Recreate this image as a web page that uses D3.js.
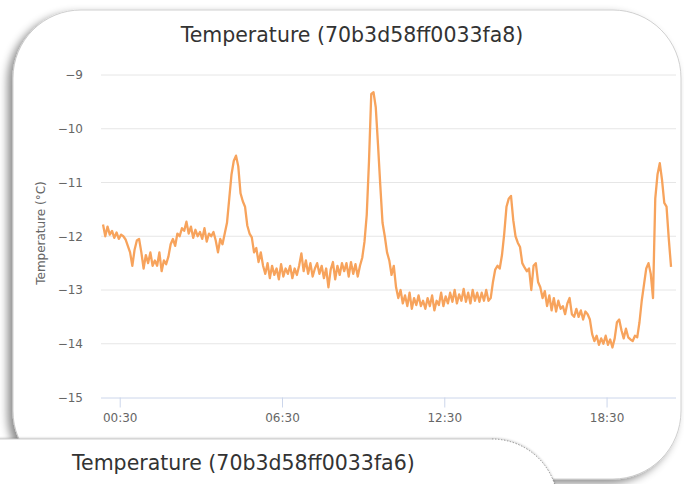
<!DOCTYPE html>
<html><head><meta charset="utf-8">
<script src="https://cdn.jsdelivr.net/npm/d3@7"></script>
<style>
html,body{margin:0;padding:0;background:#fff;overflow:hidden;}
svg{display:block;}
</style></head>
<body>
<svg id="chart" width="684" height="484"></svg>
<script>
// ---------- data ----------
const chartTitle = "Temperature (70b3d58ff0033fa8)";
const nextTitle = "Temperature (70b3d58ff0033fa6)";
const yAxisTitle = "Temperature (°C)";
const startTime = new Date(2020, 0, 1, 23, 53);
const stepMinutes = 5;
const temperatures = [
  -11.78,-12.0,-11.82,-11.97,-11.9,-12.03,-11.93,-12.05,-11.97,-12.0,-12.06,-12.18,
  -12.3,-12.55,-12.25,-12.08,-12.05,-12.3,-12.6,-12.35,-12.5,-12.3,-12.55,-12.45,
  -12.55,-12.3,-12.65,-12.45,-12.52,-12.38,-12.15,-12.05,-12.18,-11.95,-12.0,-11.85,
  -11.9,-11.73,-11.95,-11.82,-12.03,-11.88,-12.0,-11.92,-12.05,-11.85,-12.1,-11.95,
  -12.0,-11.92,-12.08,-12.3,-12.05,-12.15,-11.95,-11.75,-11.3,-10.85,-10.6,-10.5,
  -10.7,-11.2,-11.35,-11.45,-11.8,-11.95,-12.02,-12.3,-12.22,-12.48,-12.3,-12.55,
  -12.7,-12.5,-12.78,-12.55,-12.72,-12.6,-12.8,-12.52,-12.75,-12.6,-12.7,-12.55,
  -12.78,-12.6,-12.72,-12.55,-12.32,-12.65,-12.45,-12.7,-12.5,-12.75,-12.6,-12.5,
  -12.7,-12.55,-12.78,-12.6,-12.95,-12.62,-12.48,-12.8,-12.55,-12.72,-12.5,-12.65,
  -12.5,-12.75,-12.48,-12.7,-12.52,-12.75,-12.55,-12.4,-12.1,-11.6,-10.6,-9.35,
  -9.32,-9.6,-10.3,-11.05,-11.75,-12.0,-12.3,-12.45,-12.72,-12.55,-12.95,-13.15,
  -13.0,-13.25,-13.1,-13.3,-13.05,-13.35,-13.15,-13.28,-13.1,-13.3,-13.2,-13.35,
  -13.15,-13.3,-13.1,-13.38,-13.2,-13.28,-13.05,-13.3,-13.12,-13.25,-13.05,-13.22,
  -13.0,-13.25,-13.08,-13.2,-12.98,-13.22,-13.05,-13.25,-13.0,-13.2,-13.05,-13.22,
  -13.05,-13.2,-13.0,-13.2,-13.15,-12.85,-12.62,-12.55,-12.6,-12.35,-11.95,-11.45,
  -11.3,-11.25,-11.7,-12.0,-12.12,-12.2,-12.5,-12.58,-12.65,-12.6,-13.0,-12.55,
  -12.5,-12.85,-12.95,-13.15,-13.02,-13.3,-13.1,-13.38,-13.15,-13.4,-13.2,-13.35,
  -13.3,-13.45,-13.25,-13.15,-13.45,-13.5,-13.35,-13.5,-13.38,-13.55,-13.4,-13.45,
  -13.55,-13.82,-13.95,-13.85,-14.02,-13.9,-14.0,-13.85,-14.02,-13.92,-14.07,-13.9,
  -13.6,-13.55,-13.75,-13.9,-13.72,-13.88,-13.92,-13.95,-13.85,-13.88,-13.6,-13.2,
  -12.9,-12.6,-12.5,-12.7,-13.15,-11.3,-10.85,-10.64,-10.95,-11.38,-11.45,-12.05,-12.57
];
const yTicks = [-15, -14, -13, -12, -11, -10, -9];
const yTickLabels = ["−15", "−14", "−13", "−12", "−11", "−10", "−9"];
const xTicks = [new Date(2020,0,2,0,30), new Date(2020,0,2,6,30), new Date(2020,0,2,12,30), new Date(2020,0,2,18,30)];
const xTickLabels = ["00:30", "06:30", "12:30", "18:30"];

// ---------- build ----------
(function () {
const points = temperatures.map((v, i) => ({t: new Date(startTime.getTime() + i * stepMinutes * 60000), v}));
const FONT = "'Lucida Grande','Lucida Sans Unicode','DejaVu Sans',Verdana,sans-serif";
const svg = d3.select("#chart");

const defs = svg.append("defs");
const f = defs.append("filter").attr("id", "shadow").attr("x", "-10%").attr("y", "-10%").attr("width", "120%").attr("height", "120%");
f.append("feDropShadow").attr("dx", -5).attr("dy", 4).attr("stdDeviation", 4)
  .attr("flood-color", "#000").attr("flood-opacity", 0.45);
const f2 = defs.append("filter").attr("id", "shadow2").attr("x", "-10%").attr("y", "-30%").attr("width", "120%").attr("height", "160%");
f2.append("feDropShadow").attr("dx", 0).attr("dy", -1).attr("stdDeviation", 1)
  .attr("flood-color", "#000").attr("flood-opacity", 0.2);

// card 1
svg.append("rect").attr("x", 13).attr("y", 10).attr("width", 668).attr("height", 469)
  .attr("rx", 68).attr("ry", 68).attr("fill", "#fff")
  .attr("stroke", "#c4c4c4").attr("stroke-width", 0.8).attr("filter", "url(#shadow)");

const pLeft = 101, pRight = 676, pTop = 75, pBottom = 397.5;
const x = d3.scaleTime()
  .domain([new Date(startTime.getTime() - 4.5 * 60000), new Date(points[points.length - 1].t.getTime() + 11 * 60000)])
  .range([pLeft, pRight]);
const y = d3.scaleLinear().domain([-15, -9]).range([pBottom, pTop]);

// title
svg.append("text").attr("x", 352).attr("y", 42).attr("text-anchor", "middle")
  .attr("font-family", FONT).attr("font-size", 20.5).attr("fill", "#333").text(chartTitle);

// grid
svg.append("g").selectAll("line").data(yTicks.filter(d => d !== -15)).join("line")
  .attr("x1", pLeft).attr("x2", pRight).attr("y1", d => y(d)).attr("y2", d => y(d))
  .attr("stroke", "#e6e6e6").attr("stroke-width", 1);

// y axis labels
const yAxis = d3.axisLeft(y).tickValues(yTicks).tickSize(0).tickPadding(18)
  .tickFormat((d, i) => yTickLabels[i]);
const gy = svg.append("g").attr("transform", `translate(${pLeft},0)`).call(yAxis);
gy.select(".domain").remove();
gy.selectAll("text").attr("font-family", FONT).attr("font-size", 12).attr("fill", "#666");

// x axis
const xAxis = d3.axisBottom(x).tickValues(xTicks).tickSize(10).tickPadding(6)
  .tickFormat((d, i) => xTickLabels[i]);
const gx = svg.append("g").attr("transform", `translate(0,${pBottom})`).call(xAxis);
gx.select(".domain").attr("stroke", "#ccd6eb").attr("d", `M${pLeft},0.5H${pRight}`);
gx.selectAll(".tick line").attr("stroke", "#ccd6eb");
gx.selectAll("text").attr("font-family", FONT).attr("font-size", 12).attr("fill", "#666");

// y axis title
svg.append("text").attr("transform", `translate(45,233) rotate(-90)`).attr("text-anchor", "middle")
  .attr("font-family", FONT).attr("font-size", 12).attr("fill", "#666").text(yAxisTitle);

// line
const line = d3.line().x(d => x(d.t)).y(d => y(d.v));
svg.append("path").datum(points).attr("d", line).attr("fill", "none")
  .attr("stroke", "#f7a35c").attr("stroke-width", 2.3).attr("stroke-linejoin", "round");

// card 2 (next chart peeking in)
svg.append("path").attr("d", "M-30,439 H492 A66,66 0 0 1 558,505 V560 H-30 Z")
  .attr("fill", "#fff").attr("stroke", "none").attr("filter", "url(#shadow2)");
svg.append("path").attr("d", "M-30,439 H492").attr("stroke", "#cfcfcf").attr("stroke-width", 1).attr("fill", "none");
svg.append("path").attr("d", "M492,439 A66,66 0 0 1 558,505").attr("stroke", "#777")
  .attr("stroke-width", 0.8).attr("stroke-dasharray", "1.5,1.5").attr("fill", "none");
svg.append("text").attr("x", 72).attr("y", 470).attr("font-family", FONT).attr("font-size", 20.5)
  .attr("fill", "#333").text(nextTitle);
})();
</script>
</body></html>
